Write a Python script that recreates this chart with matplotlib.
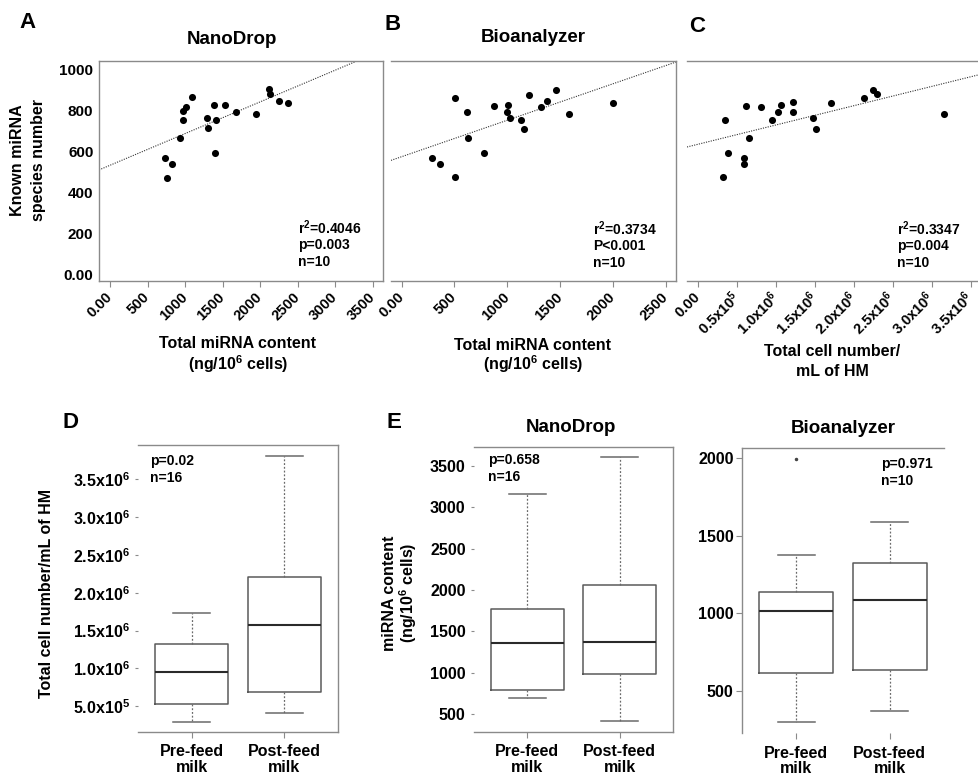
import numpy as np
import matplotlib
matplotlib.use("Agg")
import matplotlib.pyplot as plt

plt.rcParams['font.family'] = ['Liberation Sans', 'DejaVu Sans']
plt.rcParams['font.weight'] = 'bold'
plt.rcParams['mathtext.fontset'] = 'custom'
plt.rcParams['mathtext.rm'] = 'Liberation Sans:bold'
plt.rcParams['mathtext.bf'] = 'Liberation Sans:bold'
plt.rcParams['mathtext.default'] = 'rm'

# ---- data ----

# A: NanoDrop, total miRNA content vs known miRNA species
nano_x = [728, 759, 821, 937, 973, 973, 1017, 1088, 1292, 1310,
          1385, 1394, 1412, 1536, 1679, 1945, 2114, 2136, 2247, 2367]
nano_y = [569, 472, 538, 667, 757, 797, 820, 866, 765, 714,
          827, 592, 757, 830, 796, 786, 905, 881, 846, 840]
nano_fit = [0.1555, 533]          # slope, intercept

# B: Bioanalyzer
bio_x = [287, 366, 504, 508, 615, 624, 779, 873, 1003, 1000,
         1025, 1126, 1154, 1204, 1318, 1372, 1463, 1586, 1996]
bio_y = [569, 538, 474, 864, 794, 668, 592, 825, 827, 792,
         765, 755, 711, 879, 819, 846, 904, 786, 838]
bio_fit = [0.1788, 575]

# C: total cell number
cell_x = [0.342e6, 0.321e6, 0.389e6, 0.585e6, 0.594e6, 0.611e6, 0.650e6,
          0.803e6, 0.949e6, 1.030e6, 1.064e6, 1.214e6, 1.222e6, 1.470e6,
          1.513e6, 1.701e6, 2.128e6, 2.252e6, 2.299e6, 3.158e6]
cell_y = [755, 474, 592, 569, 538, 825, 668, 819, 755, 794,
          827, 845, 794, 765, 711, 838, 864, 904, 881, 786]
cell_fit = [94.5e-6, 636]

stats_a = ["r$^2$=0.4046", "p=0.003", "n=10"]
stats_b = ["r$^2$=0.3734", "P<0.001", "n=10"]
stats_c = ["r$^2$=0.3347", "p=0.004", "n=10"]

y_ticks = [0, 200, 400, 600, 800, 1000]
y_labels = ["0.00", "200", "400", "600", "800", "1000"]
a_xticks = [0, 500, 1000, 1500, 2000, 2500, 3000, 3500]
a_xlabels = ["0.00", "500", "1000", "1500", "2000", "2500", "3000", "3500"]
b_xticks = [0, 500, 1000, 1500, 2000, 2500]
b_xlabels = ["0.00", "500", "1000", "1500", "2000", "2500"]
c_xticks = [0, 0.5e6, 1.0e6, 1.5e6, 2.0e6, 2.5e6, 3.0e6, 3.5e6]
c_xlabels = ["0.00", "0.5x10$^5$", "1.0x10$^6$", "1.5x10$^6$", "2.0x10$^6$",
             "2.5x10$^6$", "3.0x10$^6$", "3.5x10$^6$"]

groups = ["Pre-feed\nmilk", "Post-feed\nmilk"]

# boxes: whislo, q1, med, q3, whishi
cells_box = [[0.293e6, 0.535e6, 0.949e6, 1.319e6, 1.725e6],
             [0.412e6, 0.689e6, 1.570e6, 2.209e6, 3.804e6]]
nano_box = [[689, 794, 1365, 1767, 3163],
            [411, 979, 1373, 2057, 3605]]
bio_box = [[296, 612, 1014, 1135, 1378],
           [367, 631, 1085, 1322, 1589]]
bio_fliers = [[1998], []]

d_yticks = [0.5e6, 1.0e6, 1.5e6, 2.0e6, 2.5e6, 3.0e6, 3.5e6]
d_ylabels = ["5.0x10$^5$", "1.0x10$^6$", "1.5x10$^6$", "2.0x10$^6$",
             "2.5x10$^6$", "3.0x10$^6$", "3.5x10$^6$"]
e1_yticks = [500, 1000, 1500, 2000, 2500, 3000, 3500]
e2_yticks = [500, 1000, 1500, 2000]

# ---- layout helpers (pixels) ----
W, H = 979, 778


def rect(l, t, r, b):
    return [l / W, 1 - b / H, (r - l) / W, (b - t) / H]


def txt(x, y, s, size=11.5, ha='center', va='center', rot=0):
    fig.text(x / W, 1 - y / H, s, fontsize=size, ha=ha, va=va,
             rotation=rot, fontweight='bold')


SP = '#8a8a8a'

fig = plt.figure(figsize=(W / 100, H / 100), dpi=100)


def spines(ax, keep):
    for k, s in ax.spines.items():
        s.set_visible(k in keep)
        s.set_color(SP)
        s.set_linewidth(1.0)


def scatter_panel(pos, x, y, fit, xlim, xticks, xlabels, keep):
    ax = fig.add_axes(pos)
    ax.scatter(x, y, s=26, c='black', linewidths=0, zorder=3)
    xs = np.array(xlim)
    ax.plot(xs, fit[0] * xs + fit[1], color='#333333', lw=0.8,
            ls=(0, (1, 1.2)), zorder=2)
    ax.set_xlim(xlim)
    ax.set_ylim(-34, 1044)
    ax.set_xticks(xticks)
    ax.set_xticklabels(xlabels, rotation=45, ha='right', va='center',
                       rotation_mode='anchor', fontsize=10.5)
    ax.tick_params(axis='x', length=4, color=SP, pad=6)
    spines(ax, keep)
    return ax


axA = scatter_panel(rect(99, 61, 383, 281), nano_x, nano_y, nano_fit,
                    (-146, 3633), a_xticks, a_xlabels,
                    ('left', 'top', 'bottom', 'right'))
axA.set_yticks(y_ticks)
axA.set_yticklabels(y_labels, fontsize=11)
axA.tick_params(axis='y', length=0, pad=4)

axB = scatter_panel(rect(391, 61, 676, 281), bio_x, bio_y, bio_fit,
                    (-100, 2595), b_xticks, b_xlabels,
                    ('top', 'bottom', 'right'))
axB.set_yticks([])

axC = scatter_panel(rect(687, 61, 979, 281), cell_x, cell_y, cell_fit,
                    (-0.141e6, 3.606e6), c_xticks, c_xlabels,
                    ('top', 'bottom'))
axC.set_yticks([])
axC.tick_params(axis='x', labelsize=10.5)

for (x0, y0), lines in [((298, 228), stats_a), ((593, 229), stats_b),
                        ((897, 229), stats_c)]:
    for i, s in enumerate(lines):
        txt(x0, y0 + 17 * i, s, size=10, ha='left')

# titles, letters, axis labels (top row)
txt(28, 23, "A", size=16)
txt(393, 25, "B", size=16)
txt(697, 27, "C", size=16)
txt(232, 39, "NanoDrop", size=13.5)
txt(533, 38, "Bioanalyzer", size=13.5)
txt(18, 160, "Known miRNA", rot=90)
txt(38, 160, "species number", rot=90)
txt(238, 344, "Total miRNA content")
txt(238, 364, "(ng/10$^6$ cells)")
txt(533, 345, "Total miRNA content")
txt(533, 364, "(ng/10$^6$ cells)")
txt(832, 352, "Total cell number/")
txt(832, 371, "mL of HM")


# ---- box plot panels ----
def box_panel(pos, boxes, ylim, yticks, ylabels, keep, fliers=None):
    ax = fig.add_axes(pos)
    st = []
    for i, b in enumerate(boxes):
        st.append(dict(whislo=b[0], q1=b[1], med=b[2], q3=b[3], whishi=b[4],
                       fliers=(fliers[i] if fliers else [])))
    ax.bxp(st, positions=[1, 2], widths=0.79, capwidths=0.4,
           boxprops=dict(color='#5a5a5a', lw=1.1),
           medianprops=dict(color='#2a2a2a', lw=1.5),
           whiskerprops=dict(color='#6a6a6a', lw=0.9, ls=(0, (1.5, 1.5))),
           capprops=dict(color='#6a6a6a', lw=1.1),
           flierprops=dict(marker='o', markersize=1.5, markerfacecolor='#444444',
                           markeredgecolor='#444444'))
    ax.set_xlim(0.42, 2.58)
    ax.set_ylim(ylim)
    ax.set_xticks([1, 2])
    ax.set_xticklabels(groups, fontsize=11.5, linespacing=1.05)
    ax.tick_params(axis='x', length=4, color=SP, pad=5)
    ax.set_yticks(yticks)
    ax.set_yticklabels(ylabels, fontsize=11.5)
    ax.tick_params(axis='y', length=2, color=SP, pad=4)
    spines(ax, keep)
    return ax


axD = box_panel(rect(138, 445, 338, 732), cells_box, (0.16e6, 3.95e6),
                d_yticks, d_ylabels, ('top', 'bottom', 'right'))
axE1 = box_panel(rect(474, 447, 673, 732), nano_box, (283, 3730),
                 e1_yticks, [str(v) for v in e1_yticks],
                 ('top', 'bottom', 'right'))
axE2 = box_panel(rect(742, 448, 944, 733), bio_box, (227, 2067),
                 e2_yticks, [str(v) for v in e2_yticks],
                 ('top', 'left'), fliers=bio_fliers)
axE2.tick_params(axis='y', length=4, pad=2)

txt(70, 423, "D", size=16)
txt(394, 423, "E", size=16)
txt(571, 428, "NanoDrop", size=13.5)
txt(843, 429, "Bioanalyzer", size=13.5)
txt(47, 593, "Total cell number/mL of HM", rot=90)
txt(390, 593, "miRNA content", rot=90)
txt(408, 593, "(ng/10$^6$ cells)", rot=90)

for (x0, y0), lines in [((150, 461), ["p=0.02", "n=16"]),
                        ((488, 460), ["p=0.658", "n=16"]),
                        ((881, 464), ["p=0.971", "n=10"])]:
    for i, s in enumerate(lines):
        txt(x0, y0 + 17 * i, s, size=10, ha='left')

fig.savefig("out.png", dpi=100)
